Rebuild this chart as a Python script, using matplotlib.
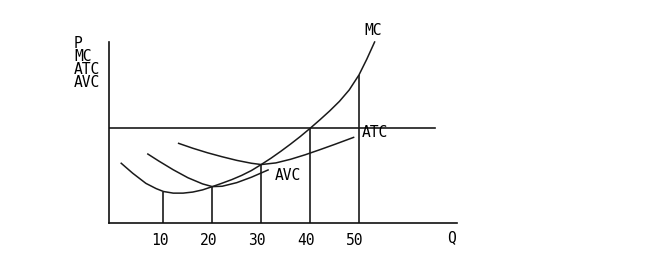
import matplotlib
matplotlib.use("Agg")
import matplotlib.pyplot as plt
import matplotlib.transforms as mtransforms

# ---- data (Q on x, price/cost on y, 0..100) ----
mc_q = [1.35, 3.7, 6.4, 8.5, 10, 12, 14, 16, 18, 20, 22, 24, 26, 28, 30, 32, 34, 36, 38,
        40, 42, 44, 46, 48, 50, 51.6, 53.2]
mc_p = [33.0, 27.5, 21.9, 19.0, 17.4, 16.5, 16.5, 17.1, 18.3, 20.1, 22.0, 24.0, 26.3, 29.0,
        32.3, 35.8, 39.6, 43.6, 47.8, 52.3, 57.0, 61.9, 67.2, 73.5, 81.8, 90.5, 100.0]

avc_q = [6.8, 9, 12, 15, 18, 20, 22, 25, 28, 31.4]
avc_p = [38.1, 34.3, 29.4, 25.0, 21.6, 20.1, 20.3, 22.3, 25.3, 29.3]

atc_q = [13.1, 16, 19, 22, 25, 28, 30, 33, 36, 39, 42, 45, 48.9]
atc_p = [44.0, 41.3, 38.8, 36.6, 34.6, 33.0, 32.3, 33.2, 35.2, 37.7, 40.5, 43.4, 47.3]

price_level = 52.3
price_q_end = 65.6

vline_q = [10, 20, 30, 40, 50]
vline_top = [17.4, 20.1, 32.3, 52.3, 81.8]

tick_labels = ["10", "20", "30", "40", "50"]
y_labels = ["P", "MC", "ATC", "AVC"]

W, H = 646, 265
fig = plt.figure(figsize=(W / 100, H / 100), dpi=100)
fig.patch.set_facecolor("white")

# axes rectangle in pixels: left 109, right 457, bottom 223, top 42
ax = fig.add_axes([109 / W, (H - 223) / H, (457 - 109) / W, (223 - 42) / H])
ax.set_xlim(-1.15, 70.06)
ax.set_ylim(0, 100)
for s in ("top", "right"):
    ax.spines[s].set_visible(False)
for s in ("left", "bottom"):
    ax.spines[s].set_linewidth(1.2)
    ax.spines[s].set_color("#111111")

lc = "#1a1a1a"
lw = 1.1
font = "DejaVu Sans Mono"
fs = 10.5

ax.plot(mc_q, mc_p, color=lc, lw=lw, clip_on=False, solid_joinstyle="round")
ax.plot(avc_q, avc_p, color=lc, lw=lw, solid_joinstyle="round")
ax.plot(atc_q, atc_p, color=lc, lw=lw, solid_joinstyle="round")
ax.plot([-1.15, price_q_end], [price_level, price_level], color=lc, lw=1.2)
ax.vlines(vline_q, 0, vline_top, color=lc, lw=1.2)

ax.set_yticks([])
ax.set_xticks(vline_q)
ax.set_xticklabels(tick_labels, family=font, fontsize=fs)
ax.tick_params(axis="x", length=0, pad=7)
offset = mtransforms.ScaledTranslation(-4 / 100, 0, fig.dpi_scale_trans)
for lab in ax.get_xticklabels():
    lab.set_transform(lab.get_transform() + offset)

ax.text(52.8, 106.6, "MC", family=font, fontsize=fs, ha="center", va="center", clip_on=False)
ax.text(50.6, 50.0, "ATC", family=font, fontsize=fs, ha="left", va="center")
ax.text(32.8, 26.5, "AVC", family=font, fontsize=fs, ha="left", va="center")
ax.text(69.0, -8.3, "Q", family=font, fontsize=fs, ha="center", va="center", clip_on=False)

# stacked vertical-axis label (one multi-line text)
fig.text(74 / W, 1 - 36 / H, "\n".join(y_labels), family=font, fontsize=fs,
         ha="left", va="top", linespacing=0.82, multialignment="left")

fig.savefig("out.png", dpi=100, facecolor="white")
